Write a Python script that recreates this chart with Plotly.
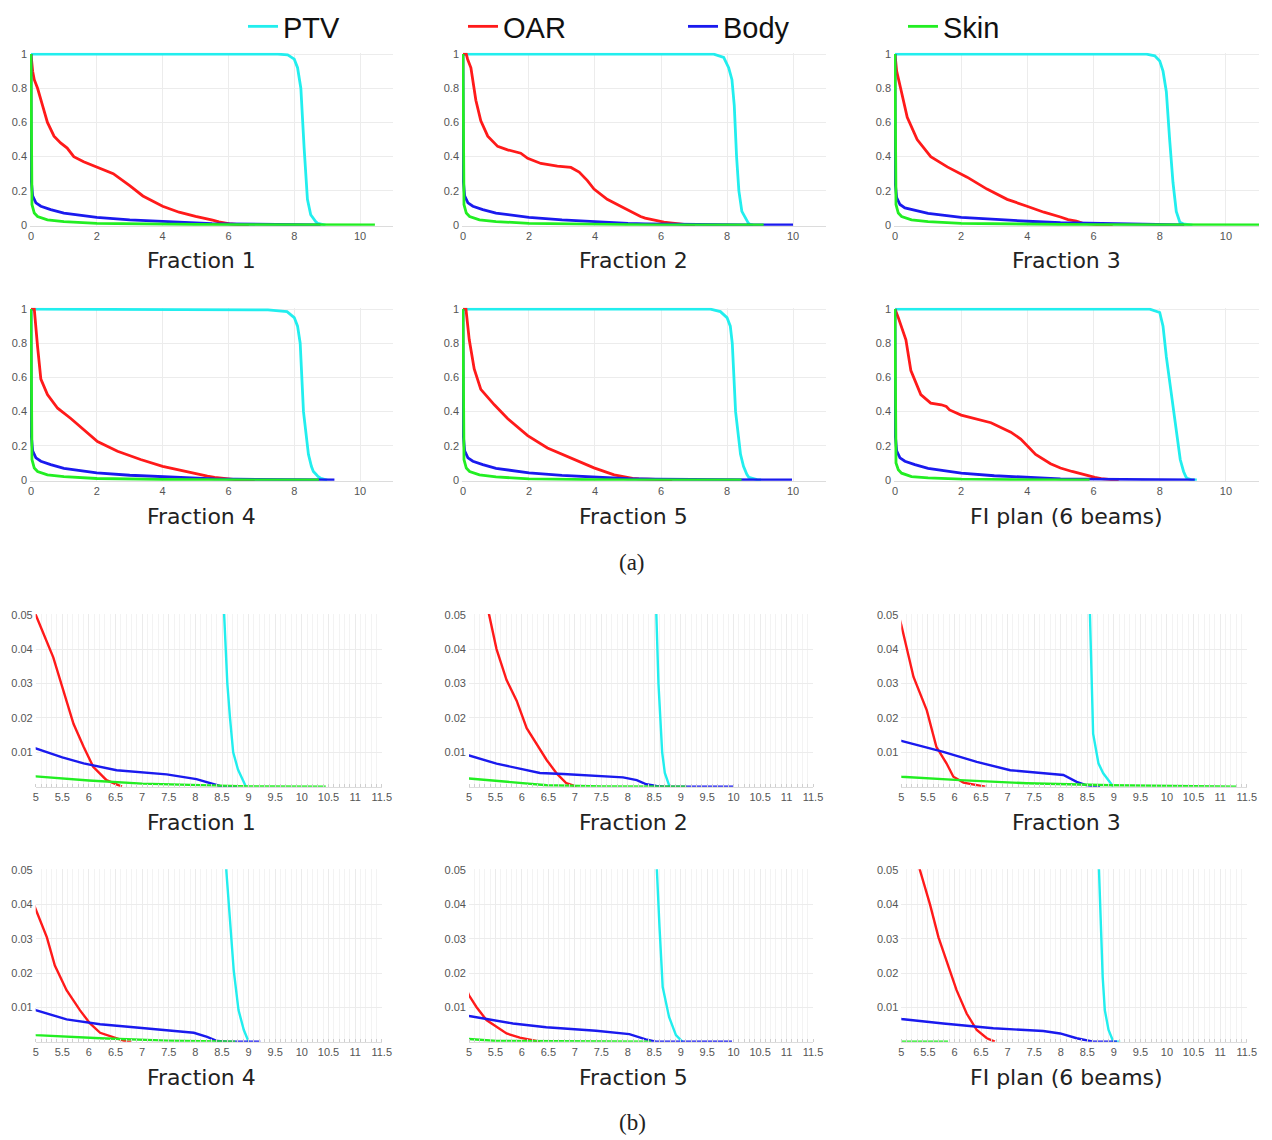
import plotly.graph_objects as go

# ---------------- data ----------------
plans = ["Fraction 1", "Fraction 2", "Fraction 3", "Fraction 4", "Fraction 5", "FI plan (6 beams)"]
structures = ["PTV", "OAR", "Body", "Skin"]
colors = {"PTV": "#22EEEE", "OAR": "#FF1A1A", "Body": "#1A1AEE", "Skin": "#22EE22"}

ptv_dose = [
    [0, 7.5, 7.8, 8.0, 8.1, 8.2, 8.3, 8.4, 8.5, 8.54, 8.6, 8.65, 8.71, 8.8, 8.95],
    [0, 7.6, 7.9, 8.05, 8.15, 8.22, 8.29, 8.36, 8.45, 8.54, 8.58, 8.65, 8.7, 8.79],
    [0, 7.6, 7.85, 8.0, 8.1, 8.2, 8.3, 8.4, 8.5, 8.55, 8.58, 8.61, 8.71, 8.8, 8.99],
    [0, 7.2, 7.78, 8.0, 8.1, 8.18, 8.28, 8.43, 8.52, 8.58, 8.66, 8.72, 8.81, 8.91, 9.0],
    [0, 7.5, 7.8, 8.0, 8.1, 8.16, 8.26, 8.41, 8.5, 8.55, 8.6, 8.66, 8.78, 8.91, 9.03],
    [0, 7.7, 8.0, 8.1, 8.2, 8.35, 8.5, 8.62, 8.72, 8.75, 8.79, 8.83, 8.9, 8.99, 9.12],
]
ptv_vol = [
    [1, 1, 0.995, 0.97, 0.92, 0.8, 0.45, 0.15, 0.06, 0.05, 0.03, 0.02, 0.01, 0.005, 0],
    [1, 1, 0.98, 0.92, 0.85, 0.7, 0.4, 0.2, 0.08, 0.05, 0.03, 0.01, 0.004, 0],
    [1, 1, 0.99, 0.96, 0.9, 0.78, 0.5, 0.25, 0.08, 0.05, 0.03, 0.0154, 0.0068, 0.0039, 0],
    [1, 0.995, 0.985, 0.95, 0.9, 0.8, 0.4, 0.15, 0.08, 0.05, 0.0333, 0.0208, 0.0092, 0.0034, 0],
    [1, 1, 0.985, 0.95, 0.9, 0.8, 0.4, 0.15, 0.08, 0.05, 0.0333, 0.0159, 0.0072, 0.0019, 0],
    [1, 1, 0.98, 0.9, 0.72, 0.5, 0.28, 0.12, 0.05, 0.0333, 0.0188, 0.0092, 0.0034, 0, 0],
]

oar_dose = [
    [0, 0.05, 0.1, 0.2, 0.35, 0.5, 0.7, 0.9, 1.1, 1.3, 1.6, 2.0, 2.5, 3.0, 3.4, 4.0, 4.5, 5.0,
     5.33, 5.52, 5.71, 5.9, 6.08, 6.33, 6.52, 6.62],
    [0, 0.1, 0.14, 0.24, 0.39, 0.54, 0.75, 1.05, 1.35, 1.75, 1.96, 2.36, 2.86, 3.27, 3.52, 3.77,
     3.97, 4.37, 4.88, 5.2, 5.38, 5.52, 5.71, 5.9, 6.09, 6.28, 6.47, 6.66, 6.84, 7.03],
    [0, 0.05, 0.17, 0.37, 0.67, 1.08, 1.58, 2.18, 2.78, 3.39, 3.99, 4.5, 5.0, 5.23, 5.48, 5.66,
     5.85, 5.98, 6.17, 6.54, 6.58],
    [0, 0.1, 0.2, 0.3, 0.5, 0.81, 1.21, 1.62, 2.02, 2.63, 3.33, 4.0, 4.5, 5.0, 5.21, 5.36, 5.58,
     5.83, 6.02, 6.21, 6.52, 6.71, 6.8],
    [0, 0.09, 0.19, 0.34, 0.54, 0.95, 1.35, 1.96, 2.56, 3.27, 3.97, 4.58, 5.0, 5.14, 5.33, 5.52,
     5.71, 5.96, 6.15, 6.34],
    [0, 0.1, 0.33, 0.48, 0.78, 1.08, 1.4, 1.55, 1.65, 2.0, 2.9, 3.5, 3.8, 4.25, 4.7, 5.0, 5.35,
     5.54, 5.7, 5.85, 6.04, 6.23, 6.42, 6.61, 6.76],
]
oar_vol = [
    [1, 0.9, 0.85, 0.8, 0.7, 0.6, 0.52, 0.48, 0.45, 0.4, 0.37, 0.34, 0.30, 0.23, 0.17, 0.11, 0.075,
     0.05, 0.0376, 0.028, 0.0183, 0.0116, 0.0058, 0.0019, 0.0005, 0],
    [1, 1, 0.97, 0.92, 0.73, 0.61, 0.52, 0.46, 0.44, 0.42, 0.39, 0.36, 0.345, 0.337, 0.31, 0.26,
     0.21, 0.15, 0.10, 0.065, 0.05, 0.040, 0.031, 0.025, 0.017, 0.0125, 0.0077, 0.0038, 0.001, 0],
    [1, 0.9, 0.8, 0.63, 0.5, 0.4, 0.34, 0.28, 0.21, 0.15, 0.11, 0.075, 0.047, 0.0319, 0.0222,
     0.0116, 0.0068, 0.0029, 0.0012, 0.0002, 0],
    [1, 1, 0.78, 0.59, 0.5, 0.42, 0.36, 0.29, 0.225, 0.168, 0.12, 0.08, 0.058, 0.0386, 0.0304,
     0.0222, 0.015, 0.0092, 0.0053, 0.0026, 0.001, 0, 0],
    [1, 1, 0.82, 0.65, 0.53, 0.44, 0.36, 0.26, 0.187, 0.129, 0.071, 0.03, 0.0135, 0.0101, 0.0063,
     0.0043, 0.0024, 0.0012, 0.0005, 0],
    [1, 0.95, 0.82, 0.64, 0.5, 0.45, 0.44, 0.43, 0.41, 0.38, 0.335, 0.28, 0.24, 0.15, 0.095, 0.07,
     0.05, 0.04, 0.0304, 0.0236, 0.015, 0.0082, 0.0034, 0.001, 0],
]

body_dose = [
    [0, 0.005, 0.05, 0.15, 0.3, 0.6, 1, 2, 3, 4, 5, 5.5, 5.9, 6.52, 7.02, 7.46, 8.02, 8.27, 8.46, 8.6, 8.8],
    [0, 0.005, 0.05, 0.15, 0.3, 0.6, 1, 2, 3, 4, 5, 5.52, 5.96, 6.34, 6.78, 7.41, 7.91, 8.17, 8.35, 8.54, 8.7, 10.0],
    [0, 0.005, 0.05, 0.15, 0.3, 0.6, 1, 2, 3, 4, 5, 5.79, 6.42, 7.05, 7.67, 8.05, 8.3, 8.49, 8.74],
    [0, 0.005, 0.05, 0.15, 0.3, 0.6, 1, 2, 3, 4, 5, 5.58, 6.21, 6.84, 7.47, 7.97, 8.22, 8.41, 8.6, 9.22],
    [0, 0.005, 0.05, 0.15, 0.3, 0.6, 1, 2, 3, 4, 5, 5.83, 6.46, 7.4, 8.03, 8.34, 8.53, 9.97],
    [0, 0.005, 0.05, 0.15, 0.3, 0.6, 1, 2, 3, 4, 5, 5.79, 6.73, 7.67, 7.99, 8.3, 8.61, 9.06],
]
body_vol = [
    [1, 0.27, 0.17, 0.13, 0.11, 0.09, 0.07, 0.045, 0.03, 0.02, 0.0111, 0.0085, 0.0068, 0.0048,
     0.0041, 0.0036, 0.0022, 0.001, 0.0002, 0.00005, 0],
    [1, 0.27, 0.17, 0.13, 0.11, 0.09, 0.07, 0.045, 0.03, 0.018, 0.0091, 0.0067, 0.0053, 0.004,
     0.0037, 0.0032, 0.0027, 0.0019, 0.0007, 0.0002, 0, 0],
    [1, 0.25, 0.16, 0.12, 0.1, 0.085, 0.068, 0.045, 0.032, 0.022, 0.0133, 0.0101, 0.0072, 0.0048,
     0.0039, 0.0034, 0.0014, 0.0004, 0],
    [1, 0.27, 0.17, 0.13, 0.11, 0.09, 0.068, 0.042, 0.028, 0.018, 0.0092, 0.0065, 0.0051, 0.0042,
     0.0034, 0.0026, 0.0014, 0.0002, 0, 0],
    [1, 0.27, 0.17, 0.13, 0.11, 0.09, 0.068, 0.042, 0.027, 0.016, 0.0075, 0.0053, 0.0042, 0.0032,
     0.0022, 0.0007, 0, 0],
    [1, 0.27, 0.17, 0.13, 0.11, 0.09, 0.068, 0.04, 0.025, 0.015, 0.0066, 0.0053, 0.0039, 0.0031,
     0.0024, 0.001, 0, 0],
]

skin_dose = [
    [0, 0.01, 0.03, 0.1, 0.2, 0.5, 1, 2, 3, 4, 5, 6, 7, 8, 9, 10.45],
    [0, 0.01, 0.03, 0.1, 0.2, 0.5, 1, 2, 3, 4, 5, 5.84, 6.47, 7.5, 9.11],
    [0, 0.01, 0.03, 0.1, 0.2, 0.5, 1, 2, 3, 4, 5, 6.1, 7.36, 8.93, 11.31],
    [0, 0.01, 0.03, 0.1, 0.2, 0.5, 1, 2, 3, 4, 5, 6.21, 7.47, 8.75],
    [0, 0.01, 0.03, 0.1, 0.2, 0.5, 1, 2, 3, 4, 5, 5.52, 8.44],
    [0, 0.01, 0.03, 0.1, 0.2, 0.5, 1, 2, 3, 4, 5, 5.88],
]
skin_vol = [
    [1, 0.3, 0.12, 0.07, 0.05, 0.03, 0.02, 0.01, 0.0065, 0.0045, 0.003, 0.0018, 0.0009, 0.0004, 0.0001, 0],
    [1, 0.3, 0.12, 0.07, 0.05, 0.03, 0.02, 0.01, 0.006, 0.004, 0.0024, 0.0012, 0.0004, 0.0001, 0],
    [1, 0.3, 0.12, 0.07, 0.05, 0.03, 0.02, 0.01, 0.0065, 0.0045, 0.0029, 0.0019, 0.001, 0.0004, 0],
    [1, 0.3, 0.12, 0.07, 0.05, 0.03, 0.02, 0.009, 0.005, 0.003, 0.0019, 0.001, 0.0003, 0],
    [1, 0.3, 0.12, 0.07, 0.05, 0.03, 0.018, 0.007, 0.003, 0.0015, 0.0008, 0.0002, 0],
    [1, 0.3, 0.1, 0.06, 0.04, 0.02, 0.012, 0.005, 0.002, 0.0008, 0.0001, 0],
]

top_xticks = [0, 2, 4, 6, 8, 10]
top_yticks = [0, 0.2, 0.4, 0.6, 0.8, 1]
top_yticktext = ["0", "0.2", "0.4", "0.6", "0.8", "1"]
bot_xticks = [5, 5.5, 6, 6.5, 7, 7.5, 8, 8.5, 9, 9.5, 10, 10.5, 11, 11.5]
bot_xticktext = ["5", "5.5", "6", "6.5", "7", "7.5", "8", "8.5", "9", "9.5", "10", "10.5", "11", "11.5"]
bot_yticks = [0.01, 0.02, 0.03, 0.04, 0.05]
bot_yticktext = ["0.01", "0.02", "0.03", "0.04", "0.05"]

# ---------------- layout geometry ----------------
W, H = 1272, 1140
OX, OY = 8, 8   # the page body adds an 8px margin around the figure


def px_x(p):
    return (p - OX) / W


def px_y(p):
    return 1 - (p - OY) / H


top_xpx = [(30, 393), (462, 826), (894, 1259)]
top_ypx = [(52.7, 225.7), (307.7, 480.7)]
bot_xpx = [(35.7, 381.7), (469, 813), (901.3, 1246.7)]
bot_ypx = [(614, 786.7), (869.3, 1041.7)]
title_x_px = [201, 633, 1066]
title_y_px = [260, 516, 822, 1077]

fig = go.Figure()
data = {
    "PTV": (ptv_dose, ptv_vol),
    "OAR": (oar_dose, oar_vol),
    "Body": (body_dose, body_vol),
    "Skin": (skin_dose, skin_vol),
}

tick_font = dict(family="Liberation Sans, Arial, sans-serif", size=11, color="#555555")
layout = {}
annotations = []

for block in range(2):
    for p in range(6):
        idx = block * 6 + p + 1
        r, c = divmod(p, 3)
        xa = "x" if idx == 1 else f"x{idx}"
        ya = "y" if idx == 1 else f"y{idx}"
        width = 2.8 if block == 0 else 2.4
        for s in structures:
            d, v = data[s]
            fig.add_trace(go.Scatter(
                x=d[p], y=v[p], mode="lines", name=s,
                line=dict(color=colors[s], width=width),
                xaxis=xa, yaxis=ya,
                legendgroup=s, showlegend=(idx == 1),
                hoverinfo="skip",
            ))
        xk = "xaxis" if idx == 1 else f"xaxis{idx}"
        yk = "yaxis" if idx == 1 else f"yaxis{idx}"
        if block == 0:
            xd = [px_x(top_xpx[c][0]), min(1, px_x(top_xpx[c][1]))]
            yd = [max(0, px_y(top_ypx[r][1])), px_y(top_ypx[r][0])]
            layout[xk] = dict(
                domain=xd, anchor=ya, range=[-0.03, 11],
                tickmode="array", tickvals=top_xticks, ticktext=[str(t) for t in top_xticks],
                showgrid=True, gridcolor="#ececec", gridwidth=1, zeroline=False,
                showline=True, linecolor="#dcdcdc", ticks="", tickfont=tick_font,
                fixedrange=True,
            )
            layout[yk] = dict(
                domain=yd, anchor=xa, range=[-0.004, 1.008],
                tickmode="array", tickvals=top_yticks, ticktext=top_yticktext,
                showgrid=True, gridcolor="#ececec", gridwidth=1, zeroline=False,
                showline=False, ticks="", tickfont=tick_font, ticklabelstandoff=2,
                fixedrange=True,
            )
        else:
            xd = [px_x(bot_xpx[c][0]), min(1, px_x(bot_xpx[c][1]))]
            yd = [max(0, px_y(bot_ypx[r][1])), px_y(bot_ypx[r][0])]
            layout[xk] = dict(
                domain=xd, anchor=ya, range=[5, 11.5],
                tickmode="array", tickvals=bot_xticks, ticktext=bot_xticktext,
                showgrid=True, gridcolor="#ebebeb", gridwidth=1, zeroline=False,
                showline=True, linecolor="#dcdcdc", ticks="", tickfont=tick_font,
                minor=dict(dtick=0.1, tick0=5, showgrid=True, gridcolor="#f3f3f3",
                           ticks="inside", ticklen=3, tickcolor="#cfcfcf"),
                fixedrange=True,
            )
            layout[yk] = dict(
                domain=yd, anchor=xa, range=[0, 0.0502],
                tickmode="array", tickvals=bot_yticks, ticktext=bot_yticktext,
                showgrid=True, gridcolor="#ececec", gridwidth=1, zeroline=False,
                showline=False, ticks="", tickfont=tick_font, ticklabelstandoff=2,
                fixedrange=True,
            )
        annotations.append(dict(
            text=plans[p], xref="paper", yref="paper",
            x=px_x(title_x_px[c]), y=px_y(title_y_px[block * 2 + r]),
            xanchor="center", yanchor="middle", showarrow=False,
            font=dict(family="DejaVu Sans, sans-serif", size=22, color="#222222"),
        ))

for lab, ypx in [("(a)", 562), ("(b)", 1122)]:
    annotations.append(dict(
        text=lab, xref="paper", yref="paper", x=px_x(632), y=px_y(ypx),
        xanchor="center", yanchor="middle", showarrow=False,
        font=dict(family="Liberation Serif, DejaVu Serif, serif", size=23, color="#222222"),
    ))

fig.update_layout(
    width=W, height=H, autosize=False,
    margin=dict(l=0, r=0, t=0, b=0, autoexpand=False),
    paper_bgcolor="white", plot_bgcolor="white",
    showlegend=True,
    legend=dict(
        orientation="h", x=px_x(243), xanchor="left", y=1 + 7 / H, yanchor="top",
        entrywidth=175, entrywidthmode="pixels", itemwidth=30,
        font=dict(family="Liberation Sans, Arial, sans-serif", size=29, color="#111111"),
        bgcolor="rgba(0,0,0,0)", borderwidth=0, tracegroupgap=0,
    ),
    annotations=annotations,
    **layout,
)

fig.write_html("out.html")
